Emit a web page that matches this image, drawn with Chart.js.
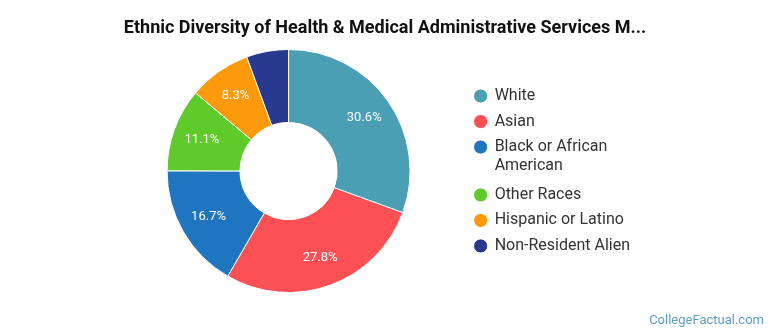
<!DOCTYPE html>
<html>
<head>
<meta charset="utf-8">
<script src="https://cdn.jsdelivr.net/npm/chart.js@4"></script>
<style>
  body { margin: 0; background: #fff; }
  #wrap { position: relative; width: 770px; height: 335px; }
  #title {
    position: absolute; left: 0; top: 16px; width: 770px; text-align: center;
    font: bold 18px Roboto, sans-serif; color: #111; line-height: 22px;
  }
  #brand {
    position: absolute; right: 6px; top: 312px;
    font: 13px Roboto, sans-serif; color: #5d9ec4;
  }
</style>
</head>
<body>
<div id="wrap">
  <canvas id="myChart" width="770" height="335"></canvas>
  <div id="title">Ethnic Diversity of Health &amp; Medical Administrative Services M...</div>
  <div id="brand">CollegeFactual.com</div>
</div>
<script>
const categories = ["White", "Asian", ["Black or African", "American"], "Other Races", "Hispanic or Latino", "Non-Resident Alien"];
const shares = [30.6, 27.8, 16.7, 11.1, 8.3, 5.6];
const sliceLabels = ["30.6%", "27.8%", "16.7%", "11.1%", "8.3%", ""];
const colors = ["#4a9fb5", "#fd5054", "#1f75bf", "#5fcb2b", "#fc9a0c", "#29398f"];

// writes the percentage inside each slice
const sliceText = {
    id: "sliceText",
    afterDatasetsDraw(chart) {
        const ctx = chart.ctx;
        const arcs = chart.getDatasetMeta(0).data;
        ctx.save();
        ctx.fillStyle = "#fff";
        ctx.font = "13px Roboto, sans-serif";
        ctx.textAlign = "center";
        ctx.textBaseline = "middle";
        arcs.forEach((arc, i) => {
            if (!sliceLabels[i]) return;
            const p = arc.getProps(["x", "y", "startAngle", "endAngle", "innerRadius", "outerRadius"], true);
            const mid = (p.startAngle + p.endAngle) / 2;
            const r = p.innerRadius + 0.6 * (p.outerRadius - p.innerRadius);
            ctx.fillText(sliceLabels[i], p.x + Math.cos(mid) * r, p.y + Math.sin(mid) * r);
        });
        ctx.restore();
    }
};

window.onload = () => {
    const data = {
        labels: categories,
        datasets: [{
            data: shares,
            backgroundColor: colors,
            borderColor: "#fff",
            borderWidth: 1
        }]
    };

    const config = {
        type: "doughnut",
        data: data,
        options: {
            responsive: false,
            animation: false,
            cutout: "40%",
            layout: {
                padding: { left: 112, right: 130, top: 49, bottom: 42 }
            },
            plugins: {
                legend: {
                    position: "right",
                    labels: {
                        usePointStyle: true,
                        pointStyle: "circle",
                        boxWidth: 12,
                        boxHeight: 10,
                        padding: 9.5,
                        color: "#333",
                        font: { family: "Roboto", size: 16, lineHeight: 1.2 }
                    }
                },
                tooltip: { enabled: false }
            }
        },
        plugins: [sliceText]
    };

    const ctx = document.getElementById("myChart").getContext("2d");
    new Chart(ctx, config);
};
</script>
</body>
</html>
